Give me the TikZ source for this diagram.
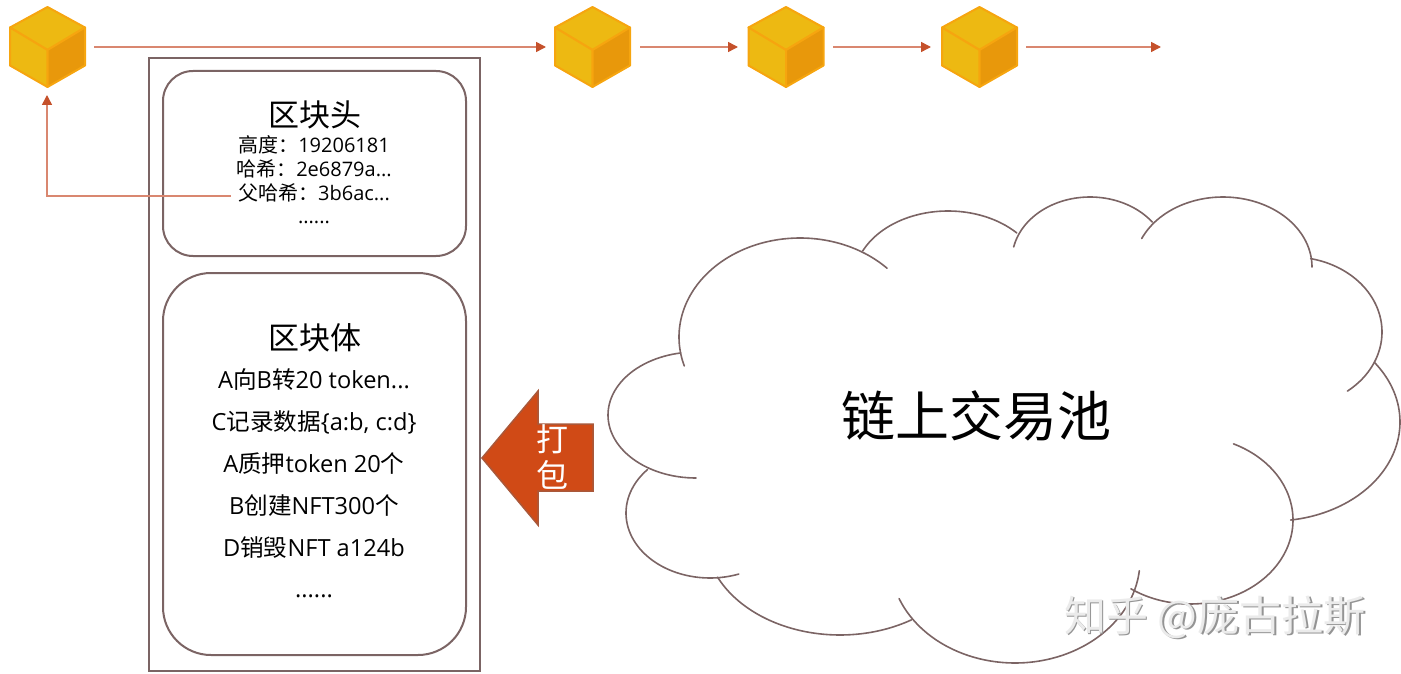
\documentclass[tikz,border=0pt]{standalone}
\usepackage{fontspec}
\setmainfont{Open Sans}
\newfontfamily\cjk{Noto Sans CJK SC}
\newcommand{\zh}[1]{{\cjk #1}}
\usetikzlibrary{arrows.meta}
\definecolor{boxline}{HTML}{7B6464}
\definecolor{linkline}{HTML}{D98770}
\definecolor{linkhead}{HTML}{C5512B}
\definecolor{cubea}{HTML}{EDB912}
\definecolor{cubeb}{HTML}{E8980B}
\definecolor{cubec}{HTML}{F6A50F}
\definecolor{arrowfill}{HTML}{D04A16}
\definecolor{arrowedge}{HTML}{A9583A}
\tikzset{
  x=1pt,y=-1pt,
  cloudarc/.style={draw=boxline,line width=1.6pt,line cap=round},
  link/.style={draw=linkline,line width=1.5pt,-{Triangle[length=10pt,width=10pt,color=linkhead]}},
  small/.style={font=\fontsize{20}{20}\selectfont,inner sep=0pt},
  bodytext/.style={font=\fontsize{23.6}{24}\selectfont,inner sep=0pt},
  heading/.style={font=\cjk\fontsize{31}{31}\selectfont,inner sep=0pt},
  pics/cube/.style={code={
    \filldraw[fill=cubea,draw=cubec,line width=2pt,line join=round] (0,-40)--(37.5,-19.5)--(0,3)--(-37.5,-19.5)--cycle;
    \filldraw[fill=cubea,draw=cubec,line width=2pt,line join=round] (-37.5,-19.5)--(0,3)--(0,40)--(-37.5,18.5)--cycle;
    \filldraw[fill=cubeb,draw=cubec,line width=2pt,line join=round] (37.5,-19.5)--(0,3)--(0,40)--(37.5,18.5)--cycle;
  }}
}
% centre x, centre y, radius x, radius y, start angle, end angle (pixel axes: 90 is downward)
\newcommand{\earc}[6]{\draw[cloudarc] plot[domain=#5:#6,samples=60,smooth] ({#1+#3*cos(\x)},{#2+#4*sin(\x)});}
\begin{document}
\begin{tikzpicture}
\useasboundingbox (0,0) rectangle (1401,674);
% cubes
\pic at (47.5,47) {cube};
\pic at (592.5,47) {cube};
\pic at (786,47) {cube};
\pic at (979.5,47) {cube};
\coordinate (c1r) at (94,47);
\coordinate (c1b) at (47,95);
\coordinate (c2l) at (546,47);
\coordinate (c2r) at (640,47);
\coordinate (c3l) at (738,47);
\coordinate (c3r) at (833,47);
\coordinate (c4l) at (931,47);
\coordinate (c4r) at (1026,47);
\coordinate (cend) at (1161,47);
% frames
\draw[boxline,line width=2pt] (149,58) rectangle (480,671);
\draw[boxline,line width=2pt,rounded corners=30pt] (163,71) rectangle (466,256);
\draw[boxline,line width=2pt,rounded corners=48pt] (163,273) rectangle (466,655);
% links
\draw[link] (c1r) -- (c2l);
\draw[link] (c2r) -- (c3l);
\draw[link] (c3r) -- (c4l);
\draw[link] (c4r) -- (cend);
% header text
\node[heading] (headtitle) at (315,115) {区块头};
\node[small] (hh) at (314,145) {\zh{高度：}19206181};
\node[small] (hs) at (314,169) {\zh{哈希：}2e6879a...};
\node[small] (ph) at (314,193) {\zh{父哈希：}3b6ac...};
\node[small] (hd) at (314,222) {......};
\draw[link] (ph.west) ++(-7,3) coordinate (phl) -- (47,196) -- (c1b);
% body text
\node[heading] (bodytitle) at (315,338) {区块体};
\node[bodytext] (b1) at (314,380) {A\zh{向}B\zh{转}20 token...};
\node[bodytext] (b2) at (314,422) {C\zh{记录数据}\{a:b, c:d\}};
\node[bodytext] (b3) at (314,464) {A\zh{质押}token 20\zh{个}};
\node[bodytext] (b4) at (314,506) {B\zh{创建}NFT300\zh{个}};
\node[bodytext] (b5) at (314,548) {D\zh{销毁}NFT a124b};
\node[bodytext] (b6) at (314,596) {......};
% pack arrow
\filldraw[fill=arrowfill,draw=arrowedge,line width=1.5pt,line join=miter] (482,458)--(538,391)--(538,424)--(593,424)--(593,491)--(538,491)--(538,525)--cycle;
\node[font=\cjk\fontsize{32}{32}\selectfont,text=white,inner sep=0pt] (da) at (552,439) {打};
\node[font=\cjk\fontsize{32}{32}\selectfont,text=white,inner sep=0pt] (bao) at (552,475) {包};
% cloud
\earc{800}{337}{121}{99}{163}{316}
\earc{696}{415}{88}{63}{90}{260}
\earc{710}{513}{84}{65}{70}{222}
\earc{840}{535}{135}{100}{58}{155}
\earc{1015}{560}{125}{103}{6}{158}
\earc{1190}{520}{103}{84}{-65}{125}
\earc{1273}{422}{127}{99}{-37}{82}
\earc{1292}{332}{90}{75}{-78}{52}
\earc{1223}{267}{89}{70}{204}{360}
\earc{1090}{260}{78}{63}{192}{323}
\earc{948}{280}{94}{69}{205}{317}
\node[font=\cjk\fontsize{54}{54}\selectfont,inner sep=0pt] (pool) at (976,416) {链上交易池};
% watermark
\node[font=\fontsize{42}{42}\selectfont\cjk,text=black!42,inner sep=0pt] (wm0) at (1216.5,618) {知乎 @庞古拉斯};
\node[font=\fontsize{42}{42}\selectfont\cjk,text=black!8,inner sep=0pt] (wm) at (1215,617) {知乎 @庞古拉斯};
\end{tikzpicture}
\end{document}
